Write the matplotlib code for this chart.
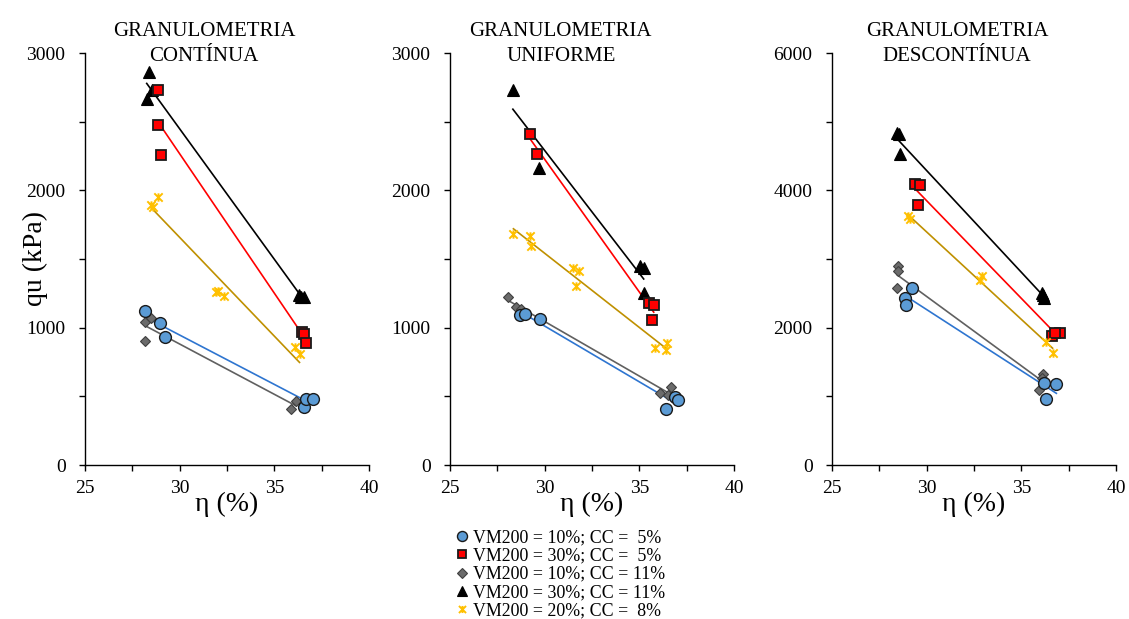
import numpy as np
import matplotlib
matplotlib.use("Agg")
import matplotlib.pyplot as plt
from matplotlib.ticker import MultipleLocator
from matplotlib.lines import Line2D
from matplotlib.path import Path

plt.rcParams['font.family'] = ['Liberation Serif', 'DejaVu Serif']

#data - eta (%) and qu (kPa) for each mix
labels = ["VM200 = 10%; CC =  5%", "VM200 = 30%; CC =  5%", "VM200 = 10%; CC = 11%",
          "VM200 = 30%; CC = 11%", "VM200 = 20%; CC =  8%"]
titles = ["GRANULOMETRIA\nCONTÍNUA", "GRANULOMETRIA\nUNIFORME", "GRANULOMETRIA\nDESCONTÍNUA"]

#continua
cont_eta_a = [28.19, 28.97, 29.25, 36.58, 36.69, 37.02]
cont_qu_a = [1125, 1032, 935, 425, 479, 481]
cont_eta_b = [28.83, 28.84, 29.02, 36.45, 36.55, 36.67]
cont_qu_b = [2733, 2473, 2259, 965, 955, 891]
cont_eta_c = [28.19, 28.47, 28.19, 35.89, 36.16]
cont_qu_c = [1044, 1074, 906, 406, 469]
cont_eta_d = [28.40, 28.26, 28.53, 36.30, 36.42, 36.55]
cont_qu_d = [2862, 2665, 2733, 1235, 1225, 1220]
cont_eta_e = [28.49, 28.60, 28.84, 31.93, 32.05, 32.35, 36.10, 36.33]
cont_qu_e = [1890, 1880, 1955, 1263, 1268, 1227, 857, 806]

#uniforme
unif_eta_a = [28.71, 28.97, 29.76, 36.40, 36.91, 37.03]
unif_qu_a = [1093, 1098, 1062, 406, 493, 474]
unif_eta_b = [29.24, 29.59, 35.50, 35.76, 35.68]
unif_qu_b = [2410, 2266, 1183, 1166, 1057]
unif_eta_c = [28.05, 28.49, 28.76, 36.08, 36.52, 36.65]
unif_qu_c = [1222, 1154, 1134, 522, 510, 571]
unif_eta_d = [28.32, 29.71, 35.02, 35.23, 35.23]
unif_qu_d = [2733, 2162, 1450, 1433, 1256]
unif_eta_e = [28.35, 29.20, 29.27, 31.49, 31.79, 31.65, 35.82, 36.47, 36.43]
unif_qu_e = [1683, 1664, 1596, 1433, 1409, 1304, 850, 887, 838]

#descontinua
desc_eta_a = [29.23, 28.87, 28.93, 36.21, 36.85, 36.29]
desc_qu_a = [2575, 2429, 2332, 1190, 1181, 957]
desc_eta_b = [29.40, 29.63, 29.54, 36.62, 37.02, 36.80]
desc_qu_b = [4096, 4071, 3790, 1880, 1929, 1920]
desc_eta_c = [28.49, 28.49, 28.43, 36.14, 36.10, 35.95]
desc_qu_c = [2891, 2828, 2575, 1321, 1270, 1093]
desc_eta_d = [28.52, 28.45, 28.57, 36.09, 36.21, 36.15]
desc_qu_d = [4819, 4830, 4533, 2502, 2429, 2470]
desc_eta_e = [28.99, 29.14, 32.80, 32.92, 36.32, 36.65]
desc_qu_e = [3619, 3585, 2696, 2755, 1798, 1628]

panels = [
    [(cont_eta_a, cont_qu_a), (cont_eta_b, cont_qu_b), (cont_eta_c, cont_qu_c), (cont_eta_d, cont_qu_d), (cont_eta_e, cont_qu_e)],
    [(unif_eta_a, unif_qu_a), (unif_eta_b, unif_qu_b), (unif_eta_c, unif_qu_c), (unif_eta_d, unif_qu_d), (unif_eta_e, unif_qu_e)],
    [(desc_eta_a, desc_qu_a), (desc_eta_b, desc_qu_b), (desc_eta_c, desc_qu_c), (desc_eta_d, desc_qu_d), (desc_eta_e, desc_qu_e)],
]
ymax = [3000, 3000, 6000]

#excel-like star marker: an x with a vertical stroke
star = Path([(-1, -1), (1, 1), (-1, 1), (1, -1), (0, -1), (0, 1)],
            [Path.MOVETO, Path.LINETO, Path.MOVETO, Path.LINETO, Path.MOVETO, Path.LINETO])

#styles: marker, fill, edge, size, trend colour
styles = [
    dict(marker='o', mfc='#5B9BD5', mec='#1a1a1a', ms=8.5, mew=1.0, line='#2E75D0'),
    dict(marker='s', mfc='#FF0000', mec='#1a1a1a', ms=7.5, mew=1.3, line='#FF0000'),
    dict(marker='D', mfc='#6b6b6b', mec='#404040', ms=5.5, mew=0.8, line='#606060'),
    dict(marker='^', mfc='#000000', mec='#000000', ms=8, mew=0.8, line='#000000'),
    dict(marker=star, mfc='#FFC000', mec='#FFC000', ms=6, mew=1.4, line='#BF9000'),
]
draw_order = [3, 1, 4, 2, 0]
title_x = [0.42, 0.39, 0.44]
lefts = [85, 450, 832]

fig = plt.figure(figsize=(11.29, 6.19), dpi=100)
for p in range(3):
    ax = fig.add_axes([lefts[p] / 1129, 1 - 465 / 619, 284 / 1129, 412 / 619])
    # trendlines first
    for i in range(5):
        x = np.array(panels[p][i][0])
        y = np.array(panels[p][i][1])
        m, b = np.polyfit(x, y, 1)
        xl = np.array([x.min(), x.max()])
        ax.plot(xl, m * xl + b, color=styles[i]['line'], lw=1.2, zorder=2)
    for i in draw_order:
        s = styles[i]
        ax.plot(panels[p][i][0], panels[p][i][1], ls='none', marker=s['marker'],
                mfc=s['mfc'], mec=s['mec'], ms=s['ms'], mew=s['mew'], zorder=3)
    ax.set_xlim(25, 40)
    ax.set_ylim(0, ymax[p])
    ax.xaxis.set_major_locator(MultipleLocator(5))
    ax.xaxis.set_minor_locator(MultipleLocator(2.5))
    ax.yaxis.set_major_locator(MultipleLocator(ymax[p] / 3))
    ax.yaxis.set_minor_locator(MultipleLocator(ymax[p] / 6))
    ax.tick_params(which='both', direction='out', length=4, width=1.0, labelsize=14)
    ax.tick_params(axis='x', which='major', pad=7)
    ax.tick_params(axis='y', which='major', pad=10)
    ax.spines['top'].set_visible(False)
    ax.spines['right'].set_visible(False)
    ax.spines['left'].set_linewidth(1.0)
    ax.spines['bottom'].set_linewidth(1.0)
    ax.text(title_x[p], 1.022, titles[p], transform=ax.transAxes, ha='center', va='center',
            fontsize=15, linespacing=1.45)
    ax.text(0.5, -0.095, "η (%)", transform=ax.transAxes, ha='center', va='center', fontsize=20)

fig.text(35 / 1129, 1 - 259 / 619, "qu (kPa)", rotation=90, ha='center', va='center', fontsize=20)

handles = [Line2D([], [], ls='none', marker=s['marker'], mfc=s['mfc'], mec=s['mec'],
                  ms=s['ms'] * 0.85, mew=s['mew']) for s in styles]
fig.legend(handles, labels, loc='upper left', bbox_to_anchor=(455 / 1129, 1 - 529 / 619),
           frameon=False, fontsize=12.9, handlelength=0.8, handletextpad=0.22,
           labelspacing=0.08, borderpad=0, borderaxespad=0)

plt.savefig("out.png", dpi=100)
